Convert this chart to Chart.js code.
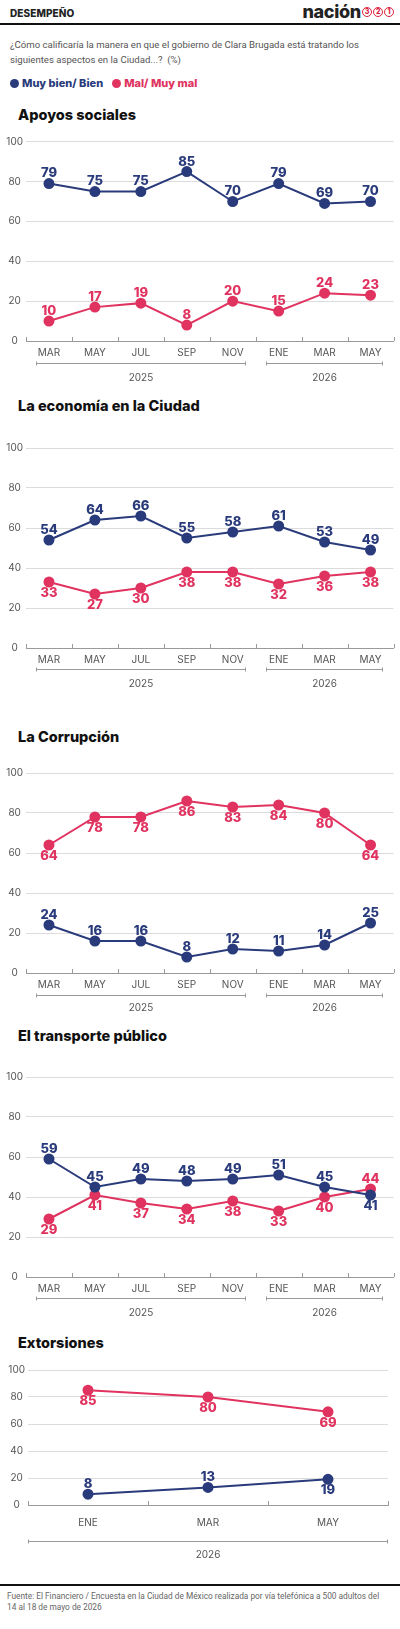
<!DOCTYPE html>
<html lang="es">
<head>
<meta charset="utf-8">
<title>Desempeño</title>
<script src="https://cdn.jsdelivr.net/npm/chart.js@4.4.1/dist/chart.umd.min.js"></script>
<style>
  body { margin: 0; width: 400px; height: 1629px; background: #fff; position: relative; overflow: hidden;
         font-family: Inter, "Noto Sans", sans-serif; color: #222; }
  .abs { position: absolute; }
  .kicker { left: 10px; top: 7px; font-size: 10px; font-weight: 800; letter-spacing: 0.1px; }
  .logo { right: 6px; top: 1px; font-size: 18px; font-weight: 800; letter-spacing: -0.3px; display: flex; align-items: center; }
  .logo span.c { display: inline-block; width: 8px; height: 8px; border: 1.5px solid #d9203f; border-radius: 50%;
                 font-size: 7px; line-height: 8px; text-align: center; color: #d9203f; margin-left: 1px; font-weight: 800; }
  .rule { left: 0; width: 400px; height: 2px; background: #111; }
  .question { left: 10px; top: 37px; font-family: Roboto, sans-serif; font-size: 9.6px; line-height: 15px; color: #555; white-space: nowrap; }
  .legend { left: 10px; top: 76px; font-size: 11px; font-weight: 800; display: flex; align-items: center; }
  .legend i { display: inline-block; width: 9px; height: 9px; border-radius: 50%; margin-right: 3px; }
  .title { left: 18px; font-size: 14.5px; font-weight: 800; color: #111; }
  .box { left: 0; width: 400px; }
  .source { left: 7px; top: 1591px; font-family: Roboto, sans-serif; font-size: 8.3px; line-height: 10.5px; color: #666; white-space: nowrap; }
</style>
</head>
<body>
<div class="abs kicker">DESEMPEÑO</div>
<div class="abs logo">nación<span class="c">3</span><span class="c">2</span><span class="c">1</span></div>
<div class="abs rule" style="top:23px"></div>
<div class="abs question">¿Cómo calificaría la manera en que el gobierno de Clara Brugada está tratando los<br>siguientes aspectos en la Ciudad...?&nbsp; (%)</div>
<div class="abs legend"><i style="background:#2a3b7c"></i><span style="color:#2a3b7c">Muy bien/ Bien</span>
  <i style="background:#e0335f;margin-left:9px"></i><span style="color:#e0335f">Mal/ Muy mal</span></div>

<div class="abs title" style="top:106px">Apoyos sociales</div>
<div class="abs box" style="top:128px;height:262px"><canvas id="c1"></canvas></div>

<div class="abs title" style="top:397px">La economía en la Ciudad</div>
<div class="abs box" style="top:430px;height:270px"><canvas id="c2"></canvas></div>

<div class="abs title" style="top:728px">La Corrupción</div>
<div class="abs box" style="top:755px;height:270px"><canvas id="c3"></canvas></div>

<div class="abs title" style="top:1027px">El transporte público</div>
<div class="abs box" style="top:1059px;height:271px"><canvas id="c4"></canvas></div>

<div class="abs title" style="top:1334px">Extorsiones</div>
<div class="abs box" style="top:1352px;height:223px"><canvas id="c5"></canvas></div>

<div class="abs rule" style="top:1584px"></div>
<div class="abs source">Fuente: El Financiero / Encuesta en la Ciudad de México realizada por vía telefónica a 500 adultos del<br>14 al 18 de mayo de 2026</div>

<script>
// categorías y ticks
const months = ["MAR", "MAY", "JUL", "SEP", "NOV", "ENE", "MAR", "MAY"]
const monthsExt = ["ENE", "MAR", "MAY"]
const years = [{ label: "2025", from: 0, to: 4 }, { label: "2026", from: 5, to: 7 }]
const yearsExt = [{ label: "2026", from: 0, to: 2 }]
const yTicks = [0, 20, 40, 60, 80, 100]

// series
const apoyosBien = [79, 75, 75, 85, 70, 79, 69, 70]
const apoyosMal = [10, 17, 19, 8, 20, 15, 24, 23]
const economiaBien = [54, 64, 66, 55, 58, 61, 53, 49]
const economiaMal = [33, 27, 30, 38, 38, 32, 36, 38]
const corrupcionBien = [24, 16, 16, 8, 12, 11, 14, 25]
const corrupcionMal = [64, 78, 78, 86, 83, 84, 80, 64]
const transporteBien = [59, 45, 49, 48, 49, 51, 45, 41]
const transporteMal = [29, 41, 37, 34, 38, 33, 40, 44]
const extorsionBien = [8, 13, 19]
const extorsionMal = [85, 80, 69]

const NAVY = "#2a3b7c"
const PINK = "#e0335f"
const FONT = "Inter, 'Noto Sans', sans-serif"

// etiquetas de valor, marcas del eje y llaves de año
const decor = {
  id: "decor",
  afterDatasetsDraw(chart) {
    const ctx = chart.ctx
    ctx.save()
    ctx.font = "800 13px " + FONT
    ctx.textAlign = "center"
    ctx.textBaseline = "middle"
    chart.data.datasets.forEach((ds, i) => {
      const meta = chart.getDatasetMeta(i)
      ctx.fillStyle = ds.borderColor
      meta.data.forEach((pt, j) => {
        const up = ds.labelPos[j] === "up"
        ctx.fillText(ds.data[j], pt.x, up ? pt.y - 10 : pt.y + 11)
      })
    })
    ctx.restore()
  },
  afterDraw(chart, args, opts) {
    const ctx = chart.ctx
    const x = chart.scales.x
    const area = chart.chartArea
    const n = chart.data.labels.length
    const step = (area.right - area.left) / n
    ctx.save()
    ctx.strokeStyle = "#9a9a9a"
    ctx.lineWidth = 1
    ctx.beginPath()
    for (let i = 0; i <= n; i++) {
      const px = Math.round(x.getPixelForValue(0) - step / 2 + i * step) + 0.5
      ctx.moveTo(px, area.bottom)
      ctx.lineTo(px, area.bottom - 4)
    }
    ctx.stroke()

    ctx.font = "10px " + FONT
    ctx.fillStyle = "#555"
    ctx.textAlign = "center"
    ctx.textBaseline = "middle"
    opts.groups.forEach((g) => {
      const x0 = Math.round(x.getPixelForValue(g.from) - step * opts.inset)
      const x1 = Math.round(x.getPixelForValue(g.to) + step * opts.inset)
      const y = Math.round(area.bottom + opts.lineOffset) + 0.5
      ctx.beginPath()
      ctx.moveTo(x0 + 0.5, y - 2)
      ctx.lineTo(x0 + 0.5, y + 2)
      ctx.moveTo(x0, y)
      ctx.lineTo(x1, y)
      ctx.moveTo(x1 - 0.5, y - 2)
      ctx.lineTo(x1 - 0.5, y + 2)
      ctx.stroke()
      ctx.fillText(g.label, (x0 + x1) / 2, area.bottom + opts.labelOffset)
    })
    ctx.restore()
  },
}

function makeChart(id, labels, bien, mal, posBien, posMal, cfg) {
  const series = (data, color, pos) => ({
    data: data,
    labelPos: pos,
    borderColor: color,
    backgroundColor: color,
    pointBackgroundColor: color,
    pointBorderColor: color,
    borderWidth: 2,
    pointRadius: 4.5,
    pointHoverRadius: 4.5,
    tension: 0,
    clip: false,
  })
  return new Chart(document.getElementById(id), {
    type: "line",
    data: {
      labels: labels,
      datasets: [series(bien, NAVY, posBien), series(mal, PINK, posMal)],
    },
    options: {
      responsive: true,
      maintainAspectRatio: false,
      animation: false,
      events: [],
      layout: { padding: { top: cfg.top, bottom: cfg.bottom, right: cfg.right, left: 0 } },
      plugins: {
        legend: { display: false },
        tooltip: { enabled: false },
        decor: { groups: cfg.groups, inset: cfg.inset, lineOffset: cfg.lineOffset, labelOffset: cfg.labelOffset },
      },
      scales: {
        x: {
          offset: true,
          grid: { display: false, drawTicks: false },
          border: { display: true, color: "#9a9a9a", width: 1 },
          ticks: { color: "#555", font: { size: 10, family: FONT }, padding: cfg.tickPad, maxRotation: 0, autoSkip: false },
          afterFit: (s) => { s.height = cfg.axisH },
        },
        y: {
          min: 0,
          max: 100,
          afterBuildTicks: (s) => { s.ticks = yTicks.map((v) => ({ value: v })) },
          grid: { color: "#dcdcdc", drawTicks: false },
          border: { display: false },
          ticks: { color: "#555", font: { size: 10, family: FONT }, padding: 3, crossAlign: "center" },
          afterFit: (s) => { s.width = cfg.left },
        },
      },
    },
    plugins: [decor],
  })
}

const U = "up", D = "down"
const main = { left: 26, right: 1, axisH: 20, tickPad: 6, groups: years, inset: 0.28 }

makeChart("c1", months, apoyosBien, apoyosMal,
  [U, U, U, U, U, U, U, U], [U, U, U, U, U, U, U, U],
  Object.assign({}, main, { top: 13.7, bottom: 29, lineOffset: 22, labelOffset: 37 }))

makeChart("c2", months, economiaBien, economiaMal,
  [U, U, U, U, U, U, U, U], [D, D, D, D, D, D, D, D],
  Object.assign({}, main, { top: 18, bottom: 32, lineOffset: 21, labelOffset: 36 }))

makeChart("c3", months, corrupcionBien, corrupcionMal,
  [U, U, U, U, U, U, U, U], [D, D, D, D, D, D, D, D],
  Object.assign({}, main, { top: 18, bottom: 32, lineOffset: 22, labelOffset: 35 }))

makeChart("c4", months, transporteBien, transporteMal,
  [U, U, U, U, U, U, U, D], [D, D, D, D, D, D, D, U],
  Object.assign({}, main, { top: 18, bottom: 33, lineOffset: 21, labelOffset: 36 }))

makeChart("c5", monthsExt, extorsionBien, extorsionMal,
  [U, U, D], [D, D, D],
  { left: 28, right: 12, axisH: 26, tickPad: 12, groups: yearsExt, inset: 0.5,
    top: 18, bottom: 44, lineOffset: 36, labelOffset: 50 })
</script>
</body>
</html>
